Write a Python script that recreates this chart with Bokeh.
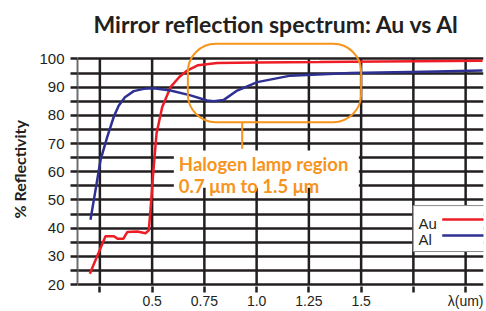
from bokeh.plotting import figure
from bokeh.models import FixedTicker, Label, Range1d, Title
from bokeh.embed import file_html
from bokeh.resources import INLINE

# ---- data ----
au_x = [0.202, 0.277, 0.317, 0.336, 0.362, 0.381, 0.429, 0.468, 0.484, 0.492,
        0.505, 0.521, 0.548, 0.588, 0.630, 0.668, 0.720, 0.811, 1.0, 1.3, 1.6, 2.081]
au_y = [23.8, 37.1, 37.1, 36.2, 36.2, 38.6, 38.8, 38.2, 39.2, 46.3,
        59.3, 73.5, 82.9, 90.0, 93.6, 95.9, 97.8, 98.6, 98.8, 98.9, 99.1, 99.4]

al_x = [0.205, 0.229, 0.253, 0.285, 0.317, 0.340, 0.370, 0.412, 0.460, 0.508, 0.588,
        0.684, 0.763, 0.795, 0.843, 0.907, 1.003, 1.162, 1.449, 1.8, 2.081]
al_y = [43.0, 53.4, 64.1, 72.3, 79.6, 83.4, 86.4, 88.6, 89.4, 89.6, 88.8,
        87.1, 85.3, 85.0, 85.5, 88.8, 91.8, 94.1, 95.0, 95.5, 95.9]

x_ticks = [0.25, 0.5, 0.75, 1.0, 1.25, 1.5, 1.75, 2.0]
x_tick_labels = ["", "0.5", "0.75", "1.0", "1.25", "1.5", "", "\u03bb(um)"]
y_major_ticks = [20, 30, 40, 50, 60, 70, 80, 90, 100]
y_minor_ticks = [25, 35, 45, 55, 65, 75, 85, 95]

series_names = ["Au", "Al"]
series_colors = ["#EE1C25", "#2E3192"]

title_text = "Mirror reflection spectrum: Au vs Al"
y_label_text = "% Reflectivity"
note_lines = ["Halogen lamp region", "0.7 \u03bcm to 1.5 \u03bcm"]
region_start, region_end = 0.7, 1.5

INK = "#231F20"
ORANGE = "#F7941D"

p = figure(width=486, height=311, output_backend="svg", toolbar_location=None,
           title=None, x_range=Range1d(0.143, 2.0855), y_range=Range1d(19.3, 106.56),
           min_border_left=77, min_border_right=3, min_border_top=40, min_border_bottom=25)
p.outline_line_color = None
p.background_fill_color = "white"
p.border_fill_color = "white"

p.add_layout(Title(text=title_text, align="left", offset=16, text_font="Lato",
                   text_font_style="bold", text_font_size="23px", text_color=INK,
                   standoff=5), "above")

# y axis / horizontal grid
p.yaxis.ticker = FixedTicker(ticks=y_major_ticks, minor_ticks=y_minor_ticks)
p.yaxis.bounds = (20, 100)
p.yaxis.axis_line_color = "#6D6E71"
p.yaxis.axis_line_width = 2
p.yaxis.major_tick_in = 0
p.yaxis.major_tick_out = 7
p.yaxis.minor_tick_in = 0
p.yaxis.minor_tick_out = 7
p.yaxis.major_tick_line_color = INK
p.yaxis.minor_tick_line_color = INK
p.yaxis.major_tick_line_width = 2.5
p.yaxis.minor_tick_line_width = 2.5
p.yaxis.major_label_text_font = "Liberation Sans"
p.yaxis.major_label_text_font_size = "15px"
p.yaxis.major_label_text_color = INK
p.yaxis.major_label_standoff = 6

# y label as a side title so it can sit centred on the 20-100 span
p.add_layout(Title(text=y_label_text, align="left", offset=68, text_font="Lato",
                   text_font_style="bold", text_font_size="16px", text_color=INK,
                   standoff=15), "left")

p.ygrid.ticker = FixedTicker(ticks=y_major_ticks, minor_ticks=y_minor_ticks)
p.ygrid.grid_line_color = INK
p.ygrid.grid_line_width = 2.5
p.ygrid.minor_grid_line_color = INK
p.ygrid.minor_grid_line_width = 2.5
p.xgrid.grid_line_color = None

# x axis
p.xaxis.ticker = FixedTicker(ticks=x_ticks)
p.xaxis.major_label_overrides = {t: l for t, l in zip(x_ticks, x_tick_labels)}
p.xaxis.axis_line_color = None
p.xaxis.major_tick_in = 0
p.xaxis.major_tick_out = 6
p.xaxis.minor_tick_line_color = None
p.xaxis.major_tick_line_color = INK
p.xaxis.major_tick_line_width = 2.5
p.xaxis.major_label_text_font = "Liberation Sans"
p.xaxis.major_label_text_font_size = "14px"
p.xaxis.major_label_text_color = INK
p.xaxis.major_label_standoff = 0

# vertical grid lines (stop at 100)
p.segment(x0=x_ticks, y0=[20] * len(x_ticks), x1=x_ticks, y1=[100] * len(x_ticks),
          line_color=INK, line_width=2.5)

# white box behind the note
p.quad(left=[0.604], right=[1.489], top=[67.5], bottom=[54.3],
       fill_color="white", line_color=None)

# curves
p.line(au_x, au_y, line_color=series_colors[0], line_width=2.5)
p.line(al_x, al_y, line_color=series_colors[1], line_width=2.5)

# halogen region outline
p.quad(left=[region_start - 0.029], right=[region_end], top=[105.4], bottom=[77.6],
       fill_color=None, line_color=ORANGE, line_width=2, border_radius=28)
p.segment(x0=[0.931], y0=[77.6], x1=[0.931], y1=[68.2], line_color=ORANGE, line_width=2)

p.add_layout(Label(x=0.628, y=62.6, text=note_lines[0], text_font="Lato",
                   text_font_style="bold", text_font_size="18.5px", text_color=ORANGE,
                   text_baseline="alphabetic"))
p.add_layout(Label(x=0.628, y=55.1, text=note_lines[1], text_font="Lato",
                   text_font_style="bold", text_font_size="18.5px", text_color=ORANGE,
                   text_baseline="alphabetic"))

# legend (label first, then line)
p.quad(left=[1.749], right=[2.3], top=[48.0], bottom=[31.7],
       fill_color="white", line_color="#8A8A8A", line_width=1)
leg_y_line = [43.1, 37.4]
leg_y_text = [41.5, 35.9]
for name, col, yl, yt in zip(series_names, series_colors, leg_y_line, leg_y_text):
    p.segment(x0=[1.888], y0=[yl], x1=[2.3], y1=[yl], line_color=col, line_width=2.5)
    p.add_layout(Label(x=1.775, y=yt, text=name, text_font="Liberation Sans",
                       text_font_size="15px", text_color=INK, text_baseline="alphabetic"))

open("out.html", "w").write(file_html(p, INLINE))
